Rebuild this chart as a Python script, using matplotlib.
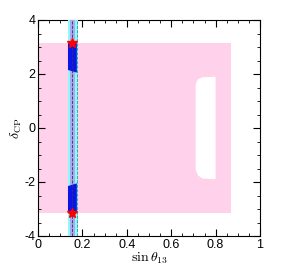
import numpy as np
import matplotlib
matplotlib.use('Agg')
import matplotlib.pyplot as plt
from matplotlib.ticker import MultipleLocator

plt.rcParams['mathtext.fontset'] = 'cm'

# Allowed (pink) region
pink_x = [0.0, 0.87, 0.87, 0.0]
pink_y = [-3.14, -3.14, 3.14, 3.14]

# Excluded hole inside the pink region
hole_x = [0.80, 0.80, 0.74, 0.72, 0.71, 0.71, 0.72, 0.74, 0.80]
hole_y = [-1.90, 1.90, 1.88, 1.80, 1.60, -1.55, -1.75, -1.87, -1.90]

# Vertical bands (sin theta13 ranges)
cyan_band = (0.135, 0.178)
lav_band = (0.145, 0.168)

# Blue best-fit regions
blue_top_x = [0.135, 0.175, 0.175, 0.135]
blue_top_y = [2.15, 2.05, 3.14, 3.14]
blue_bot_x = [0.135, 0.175, 0.175, 0.135]
blue_bot_y = [-3.14, -3.14, -2.05, -2.15]

# Dashed reference lines
dash_dark = 0.152
dash_cyan = 0.175

# Best-fit points
star_x = [0.155, 0.155]
star_y = [3.14, -3.14]

fig = plt.figure(figsize=(2.88, 2.66), dpi=100)
ax = fig.add_axes([38/288, 30/266, 222/288, 216/266])

ax.fill(pink_x, pink_y, color='#ffd1ea', lw=0, zorder=1)
ax.fill(hole_x, hole_y, color='white', lw=0, zorder=2)
ax.axvspan(*cyan_band, color='#8ff8f8', lw=0, zorder=3)
ax.axvspan(*lav_band, color='#aaaaf0', lw=0, zorder=4)
ax.fill(blue_top_x, blue_top_y, color='#0a14e6', lw=0, zorder=5)
ax.fill(blue_bot_x, blue_bot_y, color='#0a14e6', lw=0, zorder=5)
ax.axvline(dash_dark, color='#333366', ls='--', lw=0.6, zorder=6)
ax.axvline(dash_cyan, color='#339999', ls='--', lw=0.6, zorder=6)
ax.plot(star_x, star_y, '*', color='red', ms=7, zorder=7, clip_on=False)

ax.set_xlim(0, 1)
ax.set_ylim(-4, 4)
ax.xaxis.set_minor_locator(MultipleLocator(0.05))
ax.yaxis.set_minor_locator(MultipleLocator(0.5))
ax.set_xticks([0, 0.2, 0.4, 0.6, 0.8, 1])
ax.set_xticklabels(['0', '0.2', '0.4', '0.6', '0.8', '1'])
ax.set_yticks([-4, -2, 0, 2, 4])
ax.set_yticklabels(['-4', '-2', '0', '2', '4'])
ax.tick_params(which='both', direction='in', top=True, right=True, labelsize=9, pad=2)
ax.tick_params(which='major', length=5, width=0.8)
ax.tick_params(which='minor', length=2.5, width=0.6)
for lab in ax.get_xticklabels() + ax.get_yticklabels():
    lab.set_fontfamily('Liberation Sans')

ax.set_xlabel(r'$\sin\theta_{\mathbf{13}}$', fontsize=10, labelpad=0)
ax.set_ylabel(r'$\delta_{\rm CP}$', fontsize=10, labelpad=0)

fig.savefig('out.png', dpi=100)
